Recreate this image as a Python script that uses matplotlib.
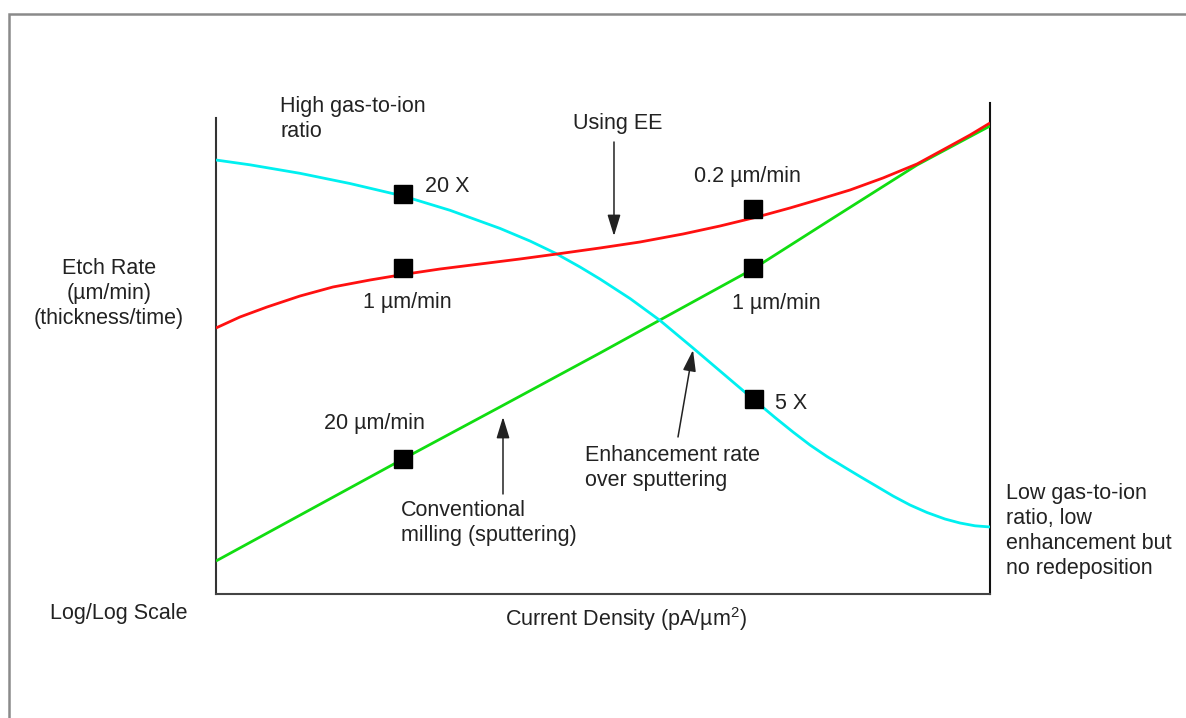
import matplotlib
matplotlib.use("Agg")
import matplotlib.pyplot as plt
from matplotlib.lines import Line2D
from matplotlib.patches import FancyArrowPatch

plt.rcParams['font.family'] = ['Liberation Sans', 'DejaVu Sans']
plt.rcParams['mathtext.fontset'] = 'custom'
plt.rcParams['mathtext.rm'] = 'Liberation Sans'
plt.rcParams['mathtext.it'] = 'Liberation Sans:italic'

# ---- data (schematic log/log units, 0..100 on both axes) ----
enh_x = [0, 4.39, 10.85, 17.31, 24.16, 30.23, 36.69, 40.57, 43.80, 47.03, 49.61,
         53.49, 57.36, 61.63, 65.12, 69.38, 72.22, 74.55, 76.74, 78.94, 81.27,
         83.20, 85.40, 87.47, 89.66, 91.86, 94.19, 96.12, 98.06, 100]
enh_y = [88.39, 87.41, 85.68, 83.60, 81.06, 78.15, 74.46, 71.89, 69.45, 66.60, 64.15,
         60.18, 55.72, 50.10, 45.42, 39.71, 35.95, 32.99, 30.35, 28.00, 25.76,
         23.93, 21.89, 19.96, 18.13, 16.60, 15.27, 14.46, 13.89, 13.65]

ee_x = [0, 3.10, 6.59, 10.85, 15.12, 19.90, 24.16, 28.94, 34.11, 39.28, 44.06,
        49.61, 54.78, 60.34, 65.12, 69.90, 74.16, 77.65, 81.91, 86.18, 90.57,
        94.83, 97.42, 100]
ee_y = [54.18, 56.42, 58.45, 60.69, 62.53, 63.95, 65.07, 66.19, 67.21, 68.23, 69.25,
        70.47, 71.69, 73.32, 74.95, 76.78, 78.62, 80.24, 82.28, 84.73, 87.58,
        91.24, 93.48, 95.93]

conv_x = [0, 24.16, 36.69, 49.61, 57.36, 69.38, 79.33, 90.57, 100]
conv_y = [6.72, 27.49, 38.09, 49.08, 55.80, 66.19, 76.17, 87.37, 95.32]

mark_x = [24.16, 24.16, 24.16, 69.38, 69.38, 69.5]
mark_y = [81.47, 66.40, 27.49, 78.41, 66.40, 39.71]

W, H = 1186, 718
fig = plt.figure(figsize=(W / 100, H / 100), dpi=100)


def fx(px):
    return px / W


def fy(py):
    return 1 - py / H


ax = fig.add_axes([fx(216), fy(594), fx(990) - fx(216), fy(103) - fy(594)])
ax.set_xlim(0, 100)
ax.set_ylim(0, 100)
ax.set_xticks([])
ax.set_yticks([])
ax.spines['top'].set_visible(False)
for s in ['left', 'right', 'bottom']:
    ax.spines[s].set_linewidth(1.5)
ax.spines['left'].set_color('#333333')
ax.spines['right'].set_color('#111111')
ax.spines['bottom'].set_color('#444444')
ax.spines['left'].set_bounds(0, (594 - 118) / 4.91)

lw = 2.0
ax.plot(conv_x, conv_y, color='#11DD11', lw=lw, solid_capstyle='butt',
        solid_joinstyle='round', zorder=3)
ax.plot(enh_x, enh_y, color='#00F0F0', lw=lw, solid_capstyle='butt',
        solid_joinstyle='round', zorder=3)
ax.plot(ee_x, ee_y, color='#FF1010', lw=lw, solid_capstyle='butt',
        solid_joinstyle='round', zorder=4)
ax.plot(mark_x, mark_y, linestyle='none', marker='s', markersize=13,
        color='black', zorder=5)

# arrows (data coords)
arrows = [((51.42, 92.06), (51.42, 72.91)),
          ((37.08, 20.37), (37.08, 36.05)),
          ((59.69, 31.98), (61.63, 49.69))]
for a, b in arrows:
    ax.add_patch(FancyArrowPatch(a, b, arrowstyle='-|>,head_length=1.3,head_width=0.4',
                                 mutation_scale=10, color='#222222', lw=1.1,
                                 shrinkA=0, shrinkB=0, zorder=6, clip_on=False))

fs = 15.5
tc = '#222222'


def txt(px, py, s, **kw):
    # py is the baseline of the LAST line of the text
    kw.setdefault('ha', 'left')
    kw.setdefault('va', 'baseline')
    fig.text(fx(px), fy(py), s, fontsize=fs, color=tc, linespacing=1.25, **kw)


txt(280, 137, "High gas-to-ion\nratio")
txt(573, 129, "Using EE")
txt(694, 182, "0.2 µm/min")
txt(425, 192, "20 X")
txt(363, 308, "1 µm/min")
txt(732, 309, "1 µm/min")
txt(324, 429, "20 µm/min")
txt(401, 541, "Conventional\nmilling (sputtering)")
txt(585, 486, "Enhancement rate\nover sputtering")
txt(775, 409, "5 X")
txt(1006, 574, "Low gas-to-ion\nratio, low\nenhancement but\nno redeposition")
txt(109, 324, "Etch Rate\n(µm/min)\n(thickness/time)", ha='center', multialignment='center')
txt(50, 619, "Log/Log Scale")
txt(626, 626, "Current Density (pA/µm$^{2}$)", ha='center')

# outer frame (top and left edges visible)
fig.add_artist(Line2D([fx(9), fx(9), 1.0], [0.0, fy(14), fy(14)],
                      color='#8a8a8a', lw=1.8, solid_joinstyle='miter'))

fig.savefig("out.png", dpi=100)
